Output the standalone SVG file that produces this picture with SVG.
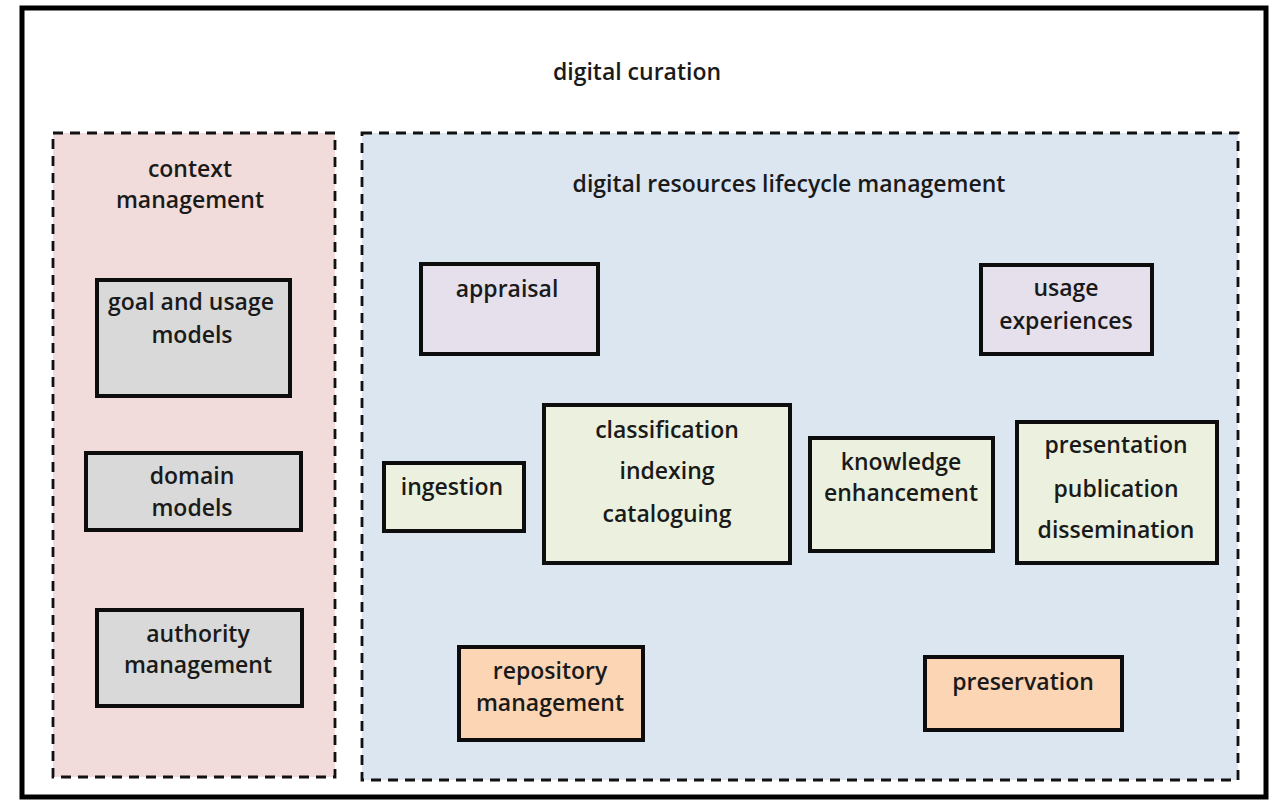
<svg xmlns="http://www.w3.org/2000/svg" width="1273" height="800" viewBox="0 0 1273 800">
<style>
text{font-family:"Open Sans",Lato,"Liberation Sans",sans-serif;font-size:23px;font-weight:600;fill:#1a1a1a;text-anchor:middle}
.grp{stroke:#111;stroke-width:2.8;stroke-dasharray:10,7}
.box{stroke:#0d0d0d;stroke-width:4}
.gray{fill:#d9d9d9}.lav{fill:#e5e0ec}.grn{fill:#ebf1de}.org{fill:#fcd5b5}
</style>
<rect width="1273" height="800" fill="#fff"/>
<g id="frame">
<rect x="22" y="8" width="1244" height="789" fill="#fff" stroke="#000" stroke-width="5"/>
<text x="637" y="80">digital curation</text>
</g>
<g id="context-management">
<rect class="grp" x="53" y="133" width="282" height="644" fill="#f2dcdb"/>
<text x="190" y="177">context</text>
<text x="190" y="208">management</text>
</g>
<g id="lifecycle-management">
<rect class="grp" x="362" y="133" width="876" height="647" fill="#dce6f1"/>
<text x="789" y="192">digital resources lifecycle management</text>
</g>
<g id="goal-usage-models">
<rect class="box gray" x="97" y="280" width="193" height="116"/>
<text x="191" y="310">goal and usage</text>
<text x="192" y="343">models</text>
</g>
<g id="domain-models">
<rect class="box gray" x="86" y="453" width="215" height="77"/>
<text x="192" y="484">domain</text>
<text x="192" y="516">models</text>
</g>
<g id="authority-management">
<rect class="box gray" x="97" y="610" width="205" height="96"/>
<text x="198" y="642">authority</text>
<text x="198" y="673">management</text>
</g>
<g id="appraisal">
<rect class="box lav" x="421" y="264" width="177" height="90"/>
<text x="507" y="297">appraisal</text>
</g>
<g id="usage-experiences">
<rect class="box lav" x="981" y="265" width="171" height="89"/>
<text x="1066" y="296">usage</text>
<text x="1066" y="329">experiences</text>
</g>
<g id="ingestion">
<rect class="box grn" x="384" y="463" width="140" height="68"/>
<text x="452" y="495">ingestion</text>
</g>
<g id="classification">
<rect class="box grn" x="544" y="405" width="246" height="158"/>
<text x="667" y="438">classification</text>
<text x="667" y="479">indexing</text>
<text x="667" y="522">cataloguing</text>
</g>
<g id="knowledge-enhancement">
<rect class="box grn" x="810" y="438" width="183" height="113"/>
<text x="901" y="470">knowledge</text>
<text x="901" y="501">enhancement</text>
</g>
<g id="presentation">
<rect class="box grn" x="1017" y="422" width="200" height="141"/>
<text x="1116" y="453">presentation</text>
<text x="1116" y="497">publication</text>
<text x="1116" y="538">dissemination</text>
</g>
<g id="repository-management">
<rect class="box org" x="459" y="647" width="184" height="93"/>
<text x="550" y="679">repository</text>
<text x="550" y="711">management</text>
</g>
<g id="preservation">
<rect class="box org" x="925" y="657" width="197" height="73"/>
<text x="1023" y="690">preservation</text>
</g>
<g id="connectors"></g>
</svg>
